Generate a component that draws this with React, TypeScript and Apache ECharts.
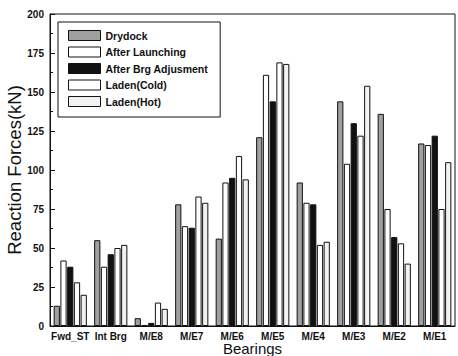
import React, { useEffect, useRef } from "react";
import * as echarts from "echarts";

const categories = ["Fwd_ST", "Int Brg", "M/E8", "M/E7", "M/E6", "M/E5", "M/E4", "M/E3", "M/E2", "M/E1"];
const drydock = [13, 55, 5, 78, 56, 121, 92, 144, 136, 117];
const afterLaunching = [42, 38, 0.5, 64, 92, 161, 79, 104, 75, 116];
const afterBrgAdjustment = [38, 46, 2, 63, 95, 144, 78, 130, 57, 122];
const ladenCold = [28, 50, 15, 83, 109, 169, 52, 122, 53, 75];
const ladenHot = [20, 52, 11, 79, 94, 168, 54, 154, 40, 105];
const yTicks = { min: 0, max: 200, interval: 25 };

export default function App() {
  const ref = useRef<HTMLDivElement>(null);
  useEffect(() => {
    if (!ref.current) return;
    const chart = echarts.init(ref.current, null, { renderer: "svg" });
    const font = "Liberation Sans, Arial, sans-serif";
    const mk = (name: string, data: number[], color: string) => ({
      name,
      type: "bar",
      data,
      barGap: "8%",
      barCategoryGap: "18%",
      itemStyle: { color, borderColor: "#111", borderWidth: 1 },
    });
    chart.setOption({
      animation: false,
      backgroundColor: "#fff",
      textStyle: { fontFamily: font },
      legend: {
        orient: "vertical",
        left: 58,
        top: 22,
        itemWidth: 32,
        itemHeight: 10,
        itemGap: 5.5,
        padding: [8, 12, 10, 10],
        borderColor: "#111",
        borderWidth: 1,
        backgroundColor: "#fff",
        icon: "rect",
        textStyle: { fontFamily: font, fontSize: 10.5, color: "#111", fontWeight: "bold" },
        itemStyle: { borderColor: "#111", borderWidth: 1 },
        data: ["Drydock", "After Launching", "After Brg Adjusment", "Laden(Cold)", "Laden(Hot)"],
      },
      grid: {
        left: 50,
        top: 14,
        right: 3,
        bottom: 30,
        show: true,
        borderColor: "#111",
        borderWidth: 1,
        containLabel: false,
        outerBoundsMode: "none",
      },
      xAxis: {
        type: "category",
        data: categories,
        name: "Bearings",
        nameLocation: "middle",
        nameGap: 15,
        nameMoveOverlap: false,
        nameTextStyle: { fontSize: 15, color: "#111", fontFamily: font, verticalAlign: "top", padding: 0 },
        axisLine: { lineStyle: { color: "#111", width: 1 } },
        axisTick: { inside: true, length: 3, lineStyle: { color: "#111" } },
        axisLabel: { fontSize: 10, color: "#111", margin: 5, fontWeight: "bold", interval: 0 },
        splitLine: { show: false },
      },
      yAxis: {
        type: "value",
        min: yTicks.min,
        max: yTicks.max,
        interval: yTicks.interval,
        name: "Reaction Forces(kN)",
        nameLocation: "middle",
        nameGap: 26,
        nameMoveOverlap: false,
        nameTextStyle: { fontSize: 18.5, color: "#111", fontFamily: font },
        axisLine: { show: true, lineStyle: { color: "#111", width: 1 } },
        axisTick: { show: true, inside: true, length: 5, lineStyle: { color: "#111" } },
        minorTick: { show: true, splitNumber: 2, length: 3, lineStyle: { color: "#111" } },
        axisLabel: { fontSize: 10, color: "#111", margin: 6, fontWeight: "bold" },
        splitLine: { show: false },
      },
      series: [
        mk("Drydock", drydock, "#a0a0a0"),
        mk("After Launching", afterLaunching, "#ffffff"),
        mk("After Brg Adjusment", afterBrgAdjustment, "#111111"),
        mk("Laden(Cold)", ladenCold, "#ffffff"),
        mk("Laden(Hot)", ladenHot, "#f2f2f2"),
      ],
    });
    return () => chart.dispose();
  }, []);
  return <div ref={ref} style={{ position: "fixed", left: 0, top: 0, width: 458, height: 356 }} />;
}
